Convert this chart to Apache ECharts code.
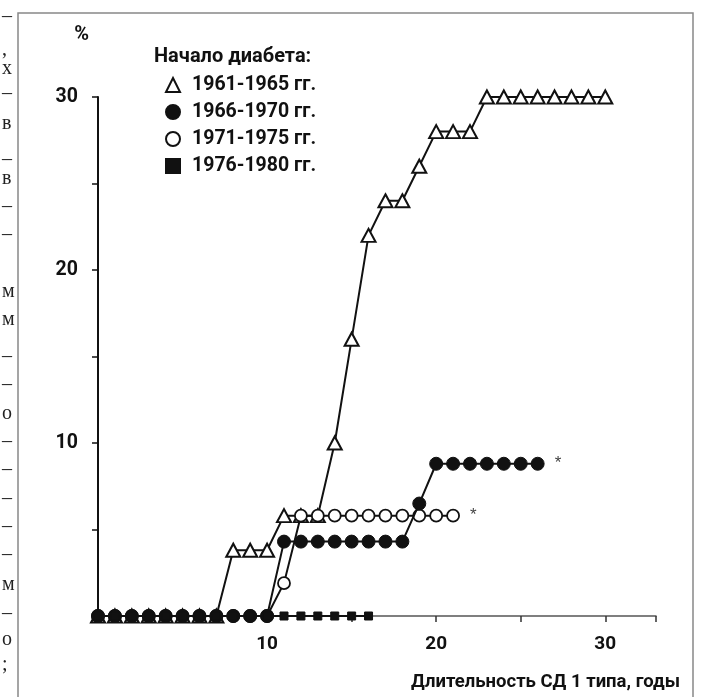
<!DOCTYPE html>
<html>
<head>
<meta charset="utf-8">
<script src="https://cdn.jsdelivr.net/npm/echarts@6/dist/echarts.min.js"></script>
<style>
  html, body { margin: 0; padding: 0; background: #fff; }
  #chart { width: 706px; height: 697px; }
</style>
</head>
<body>
<div id="chart"></div>
<script>
  // длительность СД, годы
  const years = [0, 1, 2, 3, 4, 5, 6, 7, 8, 9, 10, 11, 12, 13, 14, 15, 16, 17, 18, 19, 20, 21, 22, 23, 24, 25, 26, 27, 28, 29, 30];

  // % по группам начала диабета
  const onset1961 = [0, 0, 0, 0, 0, 0, 0, 0, 3.8, 3.8, 3.8, 5.8, 5.8, 5.8, 10, 16, 22, 24, 24, 26, 28, 28, 28, 30, 30, 30, 30, 30, 30, 30, 30];
  const onset1966 = [0, 0, 0, 0, 0, 0, 0, 0, 0, 0, 0, 4.3, 4.3, 4.3, 4.3, 4.3, 4.3, 4.3, 4.3, 6.5, 8.8, 8.8, 8.8, 8.8, 8.8, 8.8, 8.8];
  const onset1971 = [0, 0, 0, 0, 0, 0, 0, 0, 0, 0, 0, 1.9, 5.8, 5.8, 5.8, 5.8, 5.8, 5.8, 5.8, 5.8, 5.8, 5.8];
  const onset1976 = [0, 0, 0, 0, 0, 0, 0, 0, 0, 0, 0, 0, 0, 0, 0, 0, 0];

  const groups = ['1961-1965 гг.', '1966-1970 гг.', '1971-1975 гг.', '1976-1980 гг.'];
  const yTickLabels = ['10', '20', '30'];
  const xTickLabels = ['10', '20', '30'];

  const font = 'Roboto, "DejaVu Sans Condensed", sans-serif';

  function pairs(vals) {
    return vals.map((v, i) => [years[i], v]);
  }

  const chart = echarts.init(document.getElementById('chart'));

  // обрывки текста соседней колонки скана
  const margin = [
    ['–', 20], [',', 53], ['х', 72], ['–', 97], ['в', 127], ['–', 163], ['в', 182],
    ['–', 210], ['–', 238], ['м', 295], ['м', 323], ['–', 360], ['–', 388], ['о', 417],
    ['–', 445], ['–', 473], ['–', 502], ['–', 530], ['–', 558], ['м', 588], ['–', 617],
    ['о', 643], [';', 668]
  ];

  chart.setOption({
    animation: false,
    backgroundColor: '#fff',
    title: {
      text: 'Начало диабета:',
      left: 154,
      top: 47,
      padding: 0,
      textStyle: { fontFamily: font, fontSize: 20, fontWeight: 'bold', color: '#111' }
    },
    legend: {
      orient: 'vertical',
      left: 165,
      top: 75,
      padding: 0,
      itemWidth: 14,
      itemHeight: 14,
      itemGap: 7,
      data: [
        { name: groups[0], icon: 'triangle' },
        { name: groups[1], icon: 'circle' },
        { name: groups[2], icon: 'circle' },
        { name: groups[3], icon: 'rect' }
      ],
      textStyle: { fontFamily: font, fontSize: 19.5, fontWeight: 'bold', color: '#111', padding: [0, 0, 0, 7] }
    },
    grid: { left: 98, right: 50, top: 97, bottom: 81 },
    xAxis: {
      type: 'value',
      min: 0,
      max: 33,
      interval: 5,
      name: 'Длительность СД 1 типа, годы',
      nameLocation: 'end',
      nameGap: 24,
      nameTextStyle: {
        fontFamily: font, fontSize: 18.5, fontWeight: 'bold', color: '#111',
        align: 'right', verticalAlign: 'top', padding: [57, 0, 0, 0]
      },
      splitLine: { show: false },
      axisLine: { lineStyle: { color: '#555', width: 1.5 } },
      axisTick: { length: 6, lineStyle: { color: '#333', width: 1.5 } },
      axisLabel: {
        margin: 19,
        fontFamily: font, fontSize: 19, fontWeight: 'bold', color: '#111',
        formatter: v => xTickLabels.includes(String(v)) ? String(v) : ''
      }
    },
    yAxis: {
      type: 'value',
      min: 0,
      max: 30,
      interval: 5,
      name: '%',
      nameLocation: 'end',
      nameGap: 62,
      nameTextStyle: {
        fontFamily: font, fontSize: 20, fontWeight: 'bold', color: '#111',
        align: 'right', verticalAlign: 'middle', padding: [0, 9, 0, 0]
      },
      splitLine: { show: false },
      axisLine: { lineStyle: { color: '#111', width: 2 } },
      axisTick: { length: 6, lineStyle: { color: '#111', width: 1.5 } },
      axisLabel: {
        margin: 20,
        fontFamily: font, fontSize: 19.5, fontWeight: 'bold', color: '#111',
        formatter: v => yTickLabels.includes(String(v)) ? String(v) : ''
      }
    },
    series: [
      {
        name: groups[0],
        type: 'line',
        data: pairs(onset1961),
        symbol: 'triangle',
        symbolSize: [14, 13],
        lineStyle: { color: '#111', width: 2 },
        itemStyle: { color: '#fff', borderColor: '#111', borderWidth: 2 },
        z: 2
      },
      {
        name: groups[2],
        type: 'line',
        data: pairs(onset1971),
        symbol: 'circle',
        symbolSize: 12,
        lineStyle: { color: '#111', width: 2 },
        itemStyle: { color: '#fff', borderColor: '#111', borderWidth: 1.8 },
        endLabel: { show: true, formatter: '*', distance: 17, fontSize: 17, color: '#444' },
        z: 3
      },
      {
        name: groups[1],
        type: 'line',
        data: pairs(onset1966),
        symbol: 'circle',
        symbolSize: 13,
        lineStyle: { color: '#111', width: 2 },
        itemStyle: { color: '#111', borderColor: '#111', borderWidth: 1 },
        endLabel: { show: true, formatter: '*', distance: 17, fontSize: 17, color: '#444' },
        z: 4
      },
      {
        name: groups[3],
        type: 'line',
        data: pairs(onset1976),
        symbol: 'rect',
        symbolSize: 8,
        lineStyle: { color: '#111', width: 2 },
        itemStyle: { color: '#111', borderColor: '#111', borderWidth: 1 },
        z: 5
      }
    ],
    graphic: [
      {
        type: 'rect',
        shape: { x: 18, y: 13, width: 675, height: 720 },
        style: { fill: 'none', stroke: '#888', lineWidth: 1.5 },
        silent: true
      }
    ].concat(margin.map(([ch, y]) => ({
      type: 'text',
      left: 2,
      top: y - 13,
      silent: true,
      style: { text: ch, font: '20px "Liberation Serif", serif', fill: '#222' }
    })))
  });
</script>
</body>
</html>
